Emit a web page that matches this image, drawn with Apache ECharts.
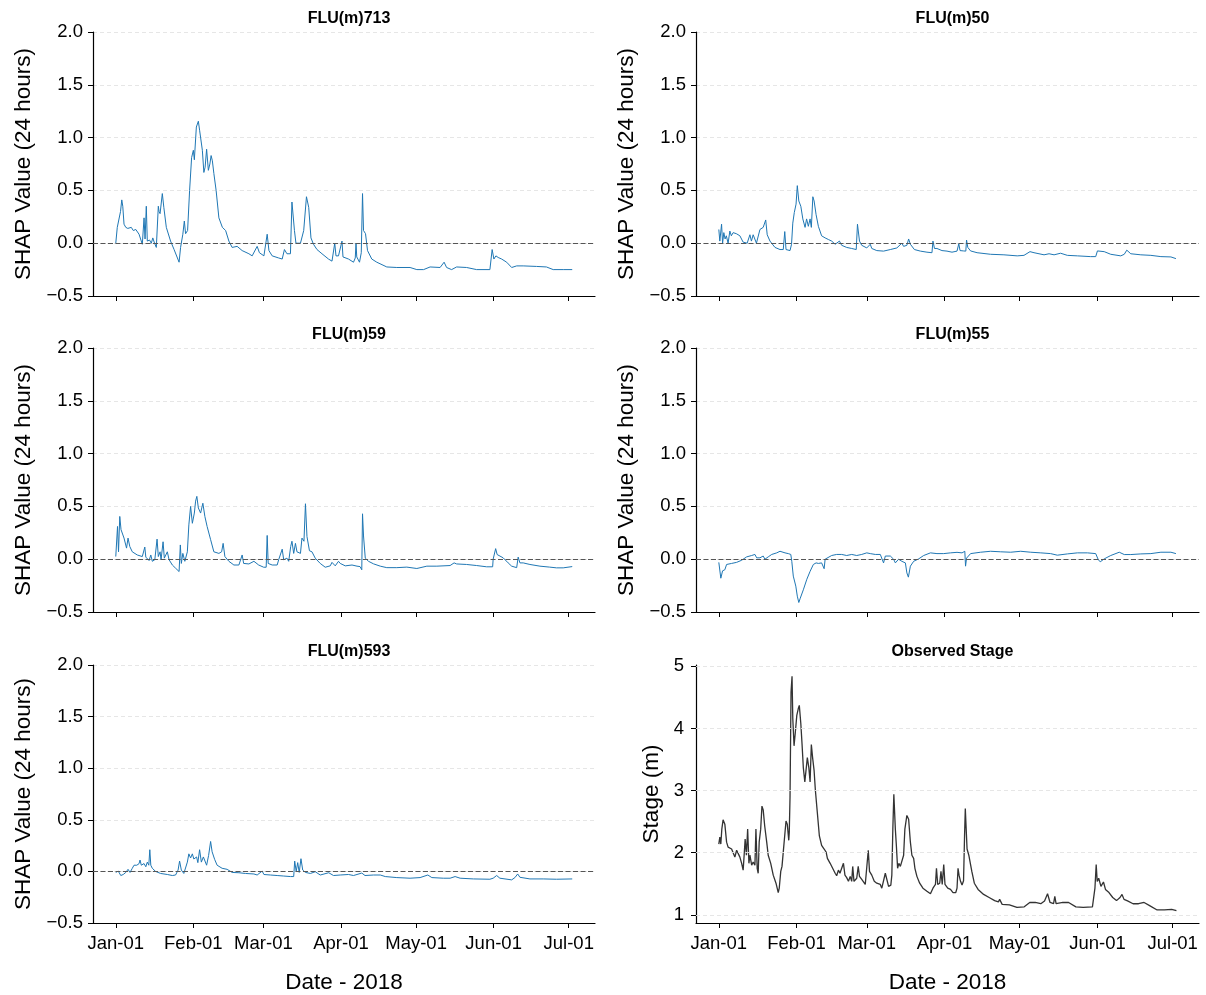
<!DOCTYPE html>
<html>
<head>
<meta charset="utf-8">
<script src="https://cdn.jsdelivr.net/npm/echarts@6/dist/echarts.min.js"></script>
<style>
html,body{margin:0;padding:0;background:#fff;}
#chart{width:1206px;height:995px;}
</style>
</head>
<body>
<div id="chart"></div>
<script>
// ---- DATA ----
const tickDays = [0, 31, 59, 90, 120, 151, 181];
const tickLabels = ['Jan-01', 'Feb-01', 'Mar-01', 'Apr-01', 'May-01', 'Jun-01', 'Jul-01'];
const titles = ['FLU(m)713', 'FLU(m)50', 'FLU(m)59', 'FLU(m)55', 'FLU(m)593', 'Observed Stage'];
const stageTicks = [1, 2, 3, 4, 5];

// [day since 2018-01-01, SHAP value]
const flu713 = [[0,0.0],[0.6,0.15],[1.3,0.16],[1.9,0.3],[2.4,0.41],[2.8,0.35],[3.3,0.18],[4,0.15],[4.8,0.14],[5.5,0.13],[6.2,0.15],[7,0.12],[8,0.13],[9.3,0.085],[10.6,-0.01],[11.3,0.24],[11.7,0.04],[12.2,0.35],[12.6,0.02],[13.5,0.03],[14.2,0.0],[14.8,0.05],[15.5,0.0],[16.2,-0.04],[17,0.35],[17.3,0.3],[17.7,0.28],[18.6,0.47],[19.2,0.34],[20.2,0.15],[21.9,0.02],[23.3,-0.06],[25.3,-0.18],[25.9,-0.04],[26.8,0.085],[27.4,0.21],[27.9,0.09],[28.7,0.12],[29.5,0.5],[30.3,0.81],[31,0.88],[31.4,0.79],[32.2,1.1],[33,1.155],[33.5,1.07],[34.6,0.88],[35.2,0.67],[35.7,0.72],[36.3,0.89],[37,0.69],[37.6,0.75],[38.1,0.83],[38.6,0.78],[39.2,0.66],[40.1,0.5],[41.2,0.24],[42.6,0.15],[43.9,0.12],[45.2,0.02],[46.5,-0.04],[48.5,-0.03],[50.5,-0.07],[53.2,-0.1],[54.5,-0.12],[56.5,-0.03],[57.4,-0.09],[59.2,-0.12],[60.5,0.085],[61.2,-0.07],[62.5,-0.12],[65.1,-0.14],[66.5,-0.15],[67.4,-0.06],[68.4,-0.1],[69.8,-0.1],[70.4,0.39],[71.4,0.12],[72,0.0],[73.8,0.0],[75.1,0.12],[76.2,0.44],[77.1,0.34],[78,0.05],[79,-0.01],[80.4,-0.06],[82.4,-0.1],[85,-0.15],[86.4,-0.17],[87.5,0.0],[88,-0.12],[89,-0.12],[90.4,0.02],[90.8,-0.13],[93,-0.15],[95,-0.18],[95.7,-0.14],[96,0.0],[96.3,-0.13],[97.4,-0.18],[98.1,-0.09],[98.6,0.47],[99,0.12],[99.8,0.09],[100.6,-0.07],[102.3,-0.15],[104.3,-0.18],[108.3,-0.225],[112.3,-0.23],[117.6,-0.23],[120.3,-0.25],[123,-0.25],[125.6,-0.225],[129.6,-0.23],[131.2,-0.18],[132.2,-0.23],[134.2,-0.25],[136.2,-0.225],[140.2,-0.23],[144.2,-0.25],[149.5,-0.25],[150.2,-0.265],[150.4,-0.06],[151.1,-0.15],[151.9,-0.12],[152.8,-0.135],[154.2,-0.15],[156.2,-0.18],[158.2,-0.23],[160.2,-0.215],[162.8,-0.215],[168.1,-0.22],[172.1,-0.225],[174.8,-0.25],[178.8,-0.25],[182.4,-0.25]];

const flu50 = [[0,0.13],[0.4,0.02],[1.1,0.18],[1.5,0.0],[2,0.1],[2.5,0.04],[3,0.07],[3.7,0.0],[4.4,0.115],[5,0.07],[5.7,0.1],[7,0.09],[8.4,0.07],[9.7,0.01],[11.3,0.0],[12.4,0.08],[13,0.02],[13.7,0.08],[15,0.0],[16.4,0.13],[17.7,0.15],[18.7,0.22],[19.3,0.08],[20.4,0.02],[22.4,-0.04],[24.4,-0.06],[25.7,-0.06],[26.3,0.11],[26.8,-0.06],[28.4,-0.07],[29,-0.01],[29.5,0.19],[30.1,0.29],[30.8,0.37],[31.3,0.545],[31.9,0.4],[32.7,0.35],[33.5,0.23],[34.4,0.15],[35,0.23],[35.7,0.16],[36.4,0.23],[36.9,0.15],[37.5,0.44],[38,0.4],[38.8,0.27],[39.7,0.16],[41,0.07],[42.4,0.05],[43.7,0.035],[45,0.02],[46.4,-0.01],[48.1,0.02],[49,-0.02],[51,-0.04],[53,-0.05],[54.8,-0.06],[55.3,0.18],[56.1,0.02],[57,-0.02],[59,-0.045],[60.4,-0.01],[61,-0.05],[63,-0.07],[65.7,-0.075],[68.4,-0.06],[71,-0.045],[73,0.0],[73.7,-0.03],[75,-0.02],[75.7,0.04],[76.4,-0.01],[77,0.0],[78,-0.06],[80.4,-0.075],[83,-0.085],[85,-0.09],[85.4,0.02],[86,-0.05],[87,-0.05],[89,-0.07],[91,-0.075],[93,-0.085],[95,-0.075],[95.7,-0.005],[96.2,-0.07],[97.5,-0.073],[98.5,-0.075],[98.8,0.03],[99.3,-0.04],[100.4,-0.073],[103,-0.09],[108.4,-0.105],[113.7,-0.11],[119,-0.12],[121.7,-0.115],[124.1,-0.08],[125.7,-0.09],[129.7,-0.11],[131.7,-0.1],[133.7,-0.11],[136.3,-0.095],[139,-0.115],[143,-0.12],[148.3,-0.127],[150.3,-0.127],[151,-0.073],[153.7,-0.08],[156.3,-0.105],[160.3,-0.12],[161.7,-0.105],[162.7,-0.066],[164.3,-0.1],[168.3,-0.11],[172.3,-0.115],[176.3,-0.127],[180.3,-0.13],[182.3,-0.146]];

const flu59 = [[0,0.025],[0.3,0.025],[0.7,0.31],[1.1,0.07],[1.6,0.405],[2.1,0.28],[2.7,0.29],[3.3,0.2],[4.3,0.105],[4.9,0.2],[5.6,0.12],[6.6,0.07],[8.6,0.04],[10.6,0.025],[11.6,0.115],[12,0.02],[13.3,-0.013],[14,0.04],[14.6,-0.02],[15.6,-0.005],[16.5,0.19],[17,0.025],[17.7,0.07],[18.1,-0.005],[18.9,0.165],[19.4,0.01],[20.6,0.07],[21.3,-0.005],[22.6,-0.055],[23.9,-0.085],[25.3,-0.117],[25.8,0.135],[26.2,-0.04],[26.8,0.055],[27.6,-0.02],[28.6,0.07],[29.2,0.325],[29.9,0.5],[30.6,0.34],[31.4,0.437],[31.9,0.55],[32.4,0.595],[33,0.485],[33.9,0.437],[34.8,0.53],[35.6,0.405],[36.5,0.31],[37.9,0.185],[39.2,0.07],[41.2,0.055],[42.3,0.07],[42.9,0.15],[43.6,0.025],[45.2,-0.02],[47.2,-0.055],[49.2,-0.055],[50.5,0.04],[51.1,-0.04],[53.2,-0.045],[55.2,-0.02],[57.1,-0.055],[59.1,-0.076],[60.1,-0.076],[60.5,0.225],[60.9,-0.04],[62.5,-0.055],[64.5,-0.055],[65.1,-0.005],[65.8,-0.02],[66.5,0.095],[67.1,-0.005],[68.4,0.01],[69.1,-0.02],[69.9,0.12],[70.4,0.17],[71.1,0.055],[71.8,0.15],[72.4,0.07],[73.1,0.07],[73.8,0.055],[74.4,0.2],[75.2,0.17],[75.8,0.525],[76.4,0.215],[77.4,0.08],[78.4,0.07],[79.7,0.01],[81.7,-0.04],[83.7,-0.076],[85.7,-0.063],[86.4,-0.03],[87.7,-0.063],[89,-0.02],[89.7,-0.04],[91.7,-0.063],[94.4,-0.055],[95,-0.05],[96.4,-0.066],[97.6,-0.07],[98.3,-0.1],[98.6,0.43],[99,0.22],[99.7,0.01],[101,-0.02],[103,-0.044],[105.7,-0.066],[108.3,-0.08],[112.3,-0.08],[116.3,-0.075],[120.3,-0.088],[124.3,-0.066],[128.3,-0.066],[133.6,-0.06],[135.2,-0.035],[136.2,-0.045],[140.2,-0.05],[144.2,-0.06],[148.2,-0.072],[150.6,-0.072],[150.8,0.0],[151.8,0.1],[152.4,0.044],[154.8,0.013],[156.8,-0.035],[158.2,-0.066],[160.2,-0.08],[160.8,0.02],[161.5,-0.035],[162.8,-0.035],[165.5,-0.05],[169.5,-0.066],[173.4,-0.075],[176.1,-0.082],[178.8,-0.082],[182.4,-0.07]];

const flu55 = [[0,-0.03],[0.4,-0.035],[0.8,-0.18],[1.5,-0.11],[2.4,-0.1],[3.1,-0.05],[3.8,-0.065],[5.1,-0.04],[7.1,-0.03],[9.1,-0.01],[11.1,0.022],[13.1,0.035],[14.4,0.045],[15.1,0.013],[16.4,0.013],[17.7,0.03],[18.4,0.0],[19.7,0.022],[21.1,0.045],[23.1,0.06],[24.4,0.075],[25.1,0.066],[26.4,0.06],[27.7,0.053],[28.7,0.045],[29.1,-0.02],[29.7,-0.16],[30.7,-0.255],[31.3,-0.35],[31.9,-0.41],[32.4,-0.375],[33.7,-0.29],[35.1,-0.19],[36.4,-0.115],[37.7,-0.05],[38.8,-0.035],[39.7,-0.04],[41,-0.035],[42,-0.09],[42.4,0.0],[43,0.013],[45,0.035],[47,0.045],[49,0.045],[51,0.035],[53,0.045],[55,0.035],[57,0.045],[59,0.06],[60.4,0.053],[62.4,0.045],[64.4,0.045],[65.7,-0.035],[66.4,0.03],[68.4,0.03],[69.7,0.0],[70.4,-0.035],[71.7,0.0],[73,-0.02],[74.4,-0.035],[75,-0.13],[75.6,-0.17],[76.4,-0.066],[77,-0.08],[77.7,-0.02],[79.7,0.003],[81.7,0.035],[84.4,0.06],[87,0.053],[89.7,0.053],[92.4,0.06],[95,0.065],[97,0.06],[98.1,0.075],[98.4,-0.066],[98.8,0.01],[100.4,0.053],[104.4,0.066],[108.4,0.075],[112.4,0.07],[116.4,0.066],[120.4,0.075],[124.4,0.066],[128.4,0.06],[132.3,0.053],[135,0.038],[139,0.05],[143,0.06],[147,0.06],[150.3,0.053],[151.3,-0.003],[152.1,-0.025],[153.7,0.003],[156.3,0.035],[159.7,0.066],[161.7,0.044],[164.3,0.044],[168.3,0.05],[172.3,0.053],[176.3,0.066],[180.3,0.066],[182.3,0.053]];

const flu593 = [[0,-0.01],[1,0.003],[2,-0.04],[3,-0.03],[4,-0.01],[4.9,0.02],[5.7,-0.01],[6.6,0.03],[7.3,0.06],[8.4,0.06],[9.3,0.075],[9.7,0.11],[10.2,0.06],[11.3,0.076],[12,0.045],[12.6,0.09],[13.2,0.06],[13.6,0.21],[14,0.06],[14.6,0.03],[15.9,0.0],[17.9,-0.02],[20.6,-0.03],[22.6,-0.04],[23.9,-0.035],[24.9,0.013],[25.5,0.1],[26.2,0.013],[27.2,-0.02],[27.9,-0.02],[28.6,0.09],[29.2,0.17],[29.9,0.13],[30.6,0.17],[31.2,0.12],[32.3,0.14],[32.8,0.085],[33.5,0.21],[34.2,0.09],[35,0.14],[35.5,0.155],[36.3,0.06],[37.1,0.155],[37.9,0.29],[38.5,0.19],[39.5,0.117],[40.5,0.06],[42.5,0.03],[44.5,0.02],[46.5,-0.01],[49.2,-0.013],[51.8,-0.02],[55.2,-0.025],[56.5,-0.035],[58.5,0.003],[59.2,-0.03],[61.8,-0.035],[64.5,-0.04],[67.1,-0.045],[69.8,-0.05],[71.1,-0.05],[71.5,0.1],[72.1,0.0],[72.7,0.085],[73.3,-0.01],[74,0.123],[74.7,0.013],[75.8,-0.01],[77.8,-0.02],[79.7,-0.003],[81.7,-0.035],[85.1,-0.013],[87,-0.04],[89.7,-0.035],[93,-0.03],[95,-0.04],[98.3,-0.016],[99.6,-0.04],[103,-0.035],[105.7,-0.035],[107.7,-0.05],[112.3,-0.06],[117.6,-0.066],[121.6,-0.06],[124.7,-0.035],[126.3,-0.06],[130.9,-0.066],[133.6,-0.066],[135.6,-0.05],[137.6,-0.066],[142.9,-0.073],[149.5,-0.076],[150.8,-0.066],[152.2,-0.04],[153.5,-0.066],[158.2,-0.082],[159.5,-0.06],[160.6,-0.025],[161.5,-0.057],[165.5,-0.073],[170.8,-0.073],[176.1,-0.076],[182.4,-0.073]];

// [day since 2018-01-01, stage in m]
const stage = [[0,2.14],[0.4,2.25],[0.8,2.14],[1.2,2.38],[1.7,2.53],[2.4,2.46],[3.1,2.17],[3.7,2.09],[4.4,2.12],[5.1,2.06],[5.8,2.07],[6.4,1.93],[7.1,2.04],[7.7,1.99],[8.4,1.93],[9.1,1.83],[9.7,1.72],[10.1,1.96],[10.5,2.22],[11,1.96],[11.5,2.38],[12,1.83],[12.4,1.96],[13.1,1.8],[13.7,1.85],[14.4,1.8],[14.8,2.38],[15.3,1.75],[15.7,1.67],[16.1,2.17],[16.7,2.38],[17.2,2.75],[17.7,2.69],[18.3,2.43],[19.1,2.17],[19.7,1.96],[20.7,1.83],[21.7,1.64],[22.8,1.51],[23.7,1.36],[24.1,1.43],[24.7,1.7],[25.2,1.78],[25.7,2.01],[26.4,2.33],[26.8,2.51],[27.3,2.46],[27.9,2.2],[28.1,2.33],[28.4,2.9],[28.8,4.58],[29.2,4.84],[29.5,4.16],[30,3.72],[30.5,3.93],[31.1,4.21],[31.7,4.32],[32.1,4.37],[32.7,4.08],[33.2,3.74],[33.7,3.37],[34.3,3.14],[34.8,3.11],[35.3,3.53],[35.9,3.37],[36.4,3.14],[36.9,3.74],[37.4,3.53],[38,3.32],[38.5,3.01],[39.3,2.64],[40.1,2.27],[41,2.12],[42,2.06],[42.8,2.01],[43.3,1.91],[44.4,1.83],[45.4,1.75],[46.4,1.67],[47,1.63],[47.7,1.72],[48.3,1.67],[49,1.64],[49.7,1.83],[50.3,1.64],[51,1.6],[51.7,1.54],[52.4,1.62],[53,1.54],[53.4,1.78],[53.9,1.54],[55,1.59],[55.6,1.78],[56.1,1.62],[57,1.57],[58.4,1.49],[59,1.46],[59.6,2.04],[60.1,1.7],[61,1.64],[62,1.54],[63,1.51],[64.4,1.49],[65,1.43],[65.7,1.46],[66.4,1.67],[67,1.64],[67.7,1.46],[68.6,1.48],[69,1.64],[69.4,2.38],[69.8,2.94],[70.4,2.38],[70.8,2.12],[71.3,1.75],[71.8,1.83],[72.4,1.78],[73,1.8],[73.7,1.96],[74.2,2.38],[75,2.6],[75.7,2.54],[76.4,2.17],[77,1.96],[77.7,1.91],[78.2,1.75],[79,1.62],[80.1,1.51],[81.4,1.43],[83,1.38],[84.4,1.34],[85.4,1.43],[86.4,1.49],[86.8,1.75],[87.3,1.49],[88.1,1.51],[88.6,1.7],[89.1,1.49],[89.7,1.81],[90.2,1.49],[91.3,1.43],[92.4,1.41],[93.4,1.36],[94.5,1.36],[95,1.43],[95.4,1.75],[95.8,1.64],[96.4,1.54],[97,1.48],[97.6,1.55],[98,2.27],[98.3,2.71],[99,2.06],[99.7,1.96],[100.9,1.7],[101.9,1.51],[103.4,1.41],[105.6,1.33],[107.8,1.28],[110,1.23],[111.5,1.21],[112,1.25],[113,1.17],[115.9,1.16],[118.9,1.12],[121.8,1.13],[124,1.2],[126.2,1.2],[128.4,1.18],[129.9,1.225],[131.1,1.34],[132.1,1.2],[133.5,1.18],[134,1.3],[134.5,1.18],[137.2,1.2],[139.5,1.2],[142.4,1.13],[145.3,1.12],[149,1.13],[150,1.43],[150.5,1.81],[150.9,1.54],[151.5,1.59],[152.4,1.46],[153.4,1.53],[154.2,1.41],[155.6,1.36],[157.1,1.28],[158.6,1.23],[160,1.28],[160.8,1.33],[161.6,1.25],[163,1.225],[165.2,1.18],[167.4,1.18],[169.6,1.2],[171.8,1.15],[174.8,1.08],[177.7,1.08],[180.6,1.09],[182.5,1.07]];

// ---- CHART ----
const FONT = '"Liberation Sans", Arial, sans-serif';
const panels = [flu713, flu50, flu59, flu55, flu593, stage];
const colLeft = [93, 696];
const colWidth = [502, 503];
const rowTop = [32, 348, 665];
const plotH = 264;

const grids = [], xAxes = [], yAxes = [], series = [], titleOpts = [];
panels.forEach((data, i) => {
  const col = i % 2, row = Math.floor(i / 2);
  const isStage = i === 5;
  const isBottom = row === 2;
  grids.push({left: colLeft[col], top: rowTop[row], width: colWidth[col], height: plotH, containLabel: false});
  titleOpts.push({
    text: titles[i], left: colLeft[col] + colWidth[col] / 2, top: rowTop[row] - 26, textAlign: 'center',
    textStyle: {fontFamily: FONT, fontSize: 16, fontWeight: 'bold', color: '#000'}
  });
  xAxes.push({
    type: 'value', gridIndex: i, min: -9.1, max: 191.5,
    name: isBottom ? 'Date - 2018' : '', nameLocation: 'middle', nameGap: 48,
    nameTextStyle: {fontFamily: FONT, fontSize: 22.5, color: '#000'},
    axisLine: {show: true, onZero: false, lineStyle: {color: '#000', width: 1.2}},
    axisTick: {show: true, customValues: tickDays, length: 5, lineStyle: {color: '#000', width: 1}},
    axisLabel: {
      show: isBottom, customValues: tickDays, margin: 11,
      fontFamily: FONT, fontSize: 18.5, color: '#000',
      formatter: v => tickLabels[tickDays.indexOf(v)] || ''
    },
    splitLine: {show: false}
  });
  if (!isStage) {
    yAxes.push({
      type: 'value', gridIndex: i, min: -0.5, max: 2, interval: 0.5,
      name: 'SHAP Value (24 hours)', nameLocation: 'middle', nameGap: 58, nameRotate: 90,
      nameTextStyle: {fontFamily: FONT, fontSize: 22.5, color: '#000'},
      axisLine: {show: true, onZero: false, lineStyle: {color: '#000', width: 1.2}},
      axisTick: {show: true, length: 5, lineStyle: {color: '#000', width: 1}},
      axisLabel: {
        margin: 10, fontFamily: FONT, fontSize: 18.5, color: '#000',
        formatter: v => (v < 0 ? '\u2212' : '') + Math.abs(v).toFixed(1)
      },
      splitLine: {show: true, lineStyle: {color: '#e3e3e3', width: 0.9, type: [4, 3]}}
    });
  } else {
    yAxes.push({
      type: 'value', gridIndex: i, min: 0.87, max: 5.02,
      name: 'Stage (m)', nameLocation: 'middle', nameGap: 33, nameRotate: 90,
      nameTextStyle: {fontFamily: FONT, fontSize: 22.5, color: '#000'},
      axisLine: {show: true, onZero: false, lineStyle: {color: '#000', width: 1.2}},
      axisTick: {show: true, customValues: stageTicks, length: 5, lineStyle: {color: '#000', width: 1}},
      axisLabel: {
        customValues: stageTicks, margin: 12, fontFamily: FONT, fontSize: 18.5, color: '#000',
        formatter: v => String(v)
      },
      splitLine: {show: false}
    });
    // horizontal grid lines for stage panel
    series.push({
      type: 'line', xAxisIndex: i, yAxisIndex: i, data: [], silent: true, z: 1,
      markLine: {
        silent: true, symbol: 'none', label: {show: false}, animation: false,
        lineStyle: {color: '#e3e3e3', width: 0.9, type: [4, 3]},
        data: stageTicks.map(v => ({yAxis: v}))
      }
    });
  }
  const s = {
    type: 'line', xAxisIndex: i, yAxisIndex: i, data: data,
    showSymbol: false, symbol: 'none', silent: true, z: 3,
    lineStyle: {color: isStage ? '#333333' : '#1f77b4', width: isStage ? 1.3 : 1.0},
    itemStyle: {color: isStage ? '#333333' : '#1f77b4'}
  };
  if (!isStage) {
    s.markLine = {
      silent: true, symbol: 'none', label: {show: false}, animation: false,
      lineStyle: {color: '#555', width: 1.2, type: [5, 2.5]},
      data: [{yAxis: 0}]
    };
  }
  series.push(s);
});

const chart = echarts.init(document.getElementById('chart'), null, {renderer: 'canvas'});
chart.setOption({
  animation: false,
  backgroundColor: '#fff',
  title: titleOpts,
  grid: grids,
  xAxis: xAxes,
  yAxis: yAxes,
  series: series
});
</script>
</body>
</html>
